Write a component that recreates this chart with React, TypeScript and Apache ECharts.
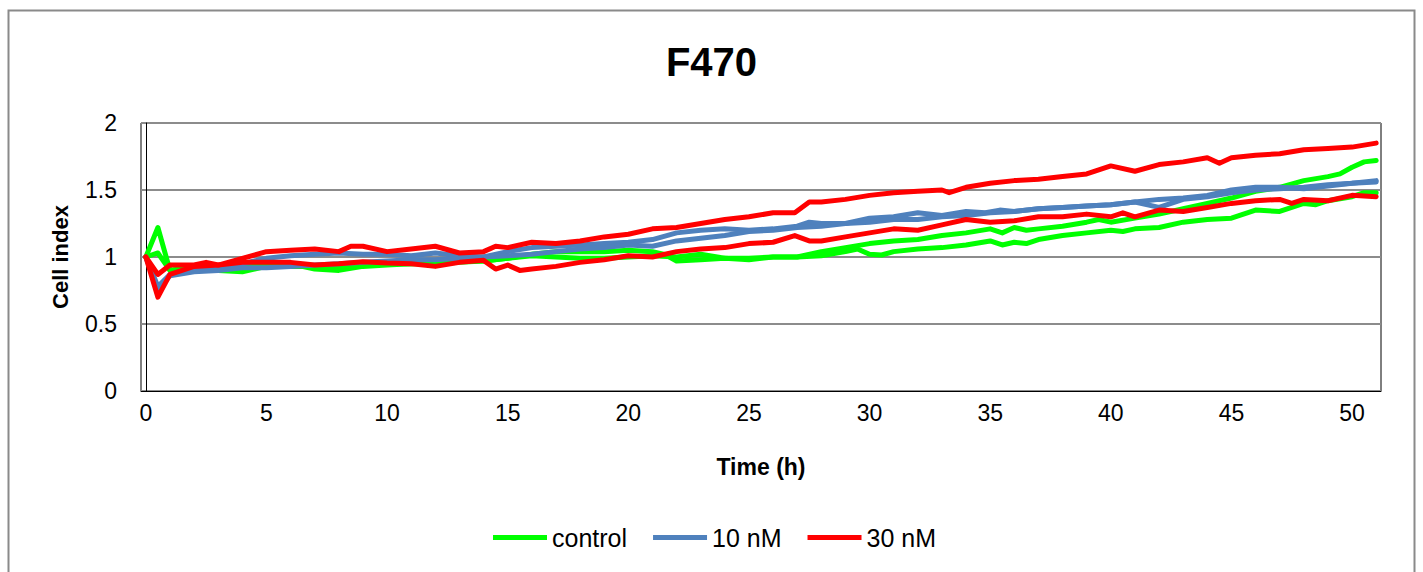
import React, { useEffect, useRef } from "react";
import * as echarts from "echarts";

const TITLE = "F470";
const X_NAME = "Time (h)";
const Y_NAME = "Cell index";
const LEGEND_NAMES = ["control", "10 nM", "30 nM"];
const COLORS = ["#00FF00", "#4F81BD", "#FF0000"];
const X_TICKS = [0, 5, 10, 15, 20, 25, 30, 35, 40, 45, 50];

const control1: [number, number][] = [
  [0, 1.0], [0.5, 1.22], [1, 0.9], [2, 0.92], [3, 0.9], [4, 0.89], [5, 0.93], [6, 0.95], [7, 0.91], [8, 0.9],
  [9, 0.93], [10, 0.94], [11, 0.95], [12, 0.96], [13, 0.97], [14, 0.97], [15, 0.99], [16, 1.02], [17, 1.04],
  [18, 1.04], [19, 1.04], [20, 1.05], [21, 1.04], [21.5, 1.02], [22, 0.97], [23, 0.98], [24, 0.99], [25, 0.98],
  [26, 1.0], [27, 1.0], [28, 1.04], [29, 1.07], [30, 1.1], [31, 1.12], [32, 1.13], [33, 1.16], [34, 1.18],
  [35, 1.21], [35.5, 1.18], [36, 1.22], [36.5, 1.2], [37, 1.21], [38, 1.23], [39, 1.26], [39.5, 1.28], [40, 1.26],
  [41, 1.29], [42, 1.32], [43, 1.36], [44, 1.4], [45, 1.44], [46, 1.49], [47, 1.52], [48, 1.57], [49, 1.6],
  [49.5, 1.62], [50, 1.67], [50.5, 1.71], [51, 1.72],
];
const control2: [number, number][] = [
  [0, 1.0], [0.5, 1.03], [1, 0.9], [2, 0.93], [3, 0.93], [4, 0.92], [5, 0.96], [6, 0.93], [7, 0.93], [8, 0.92],
  [9, 0.94], [10, 0.95], [11, 0.95], [12, 0.95], [13, 0.96], [14, 0.97], [15, 0.99], [16, 1.01], [17, 1.0],
  [18, 0.99], [19, 0.99], [20, 1.0], [21, 1.01], [22, 1.0], [23, 1.02], [24, 0.99], [25, 0.99], [26, 1.0],
  [27, 1.0], [28, 1.01], [29, 1.04], [29.5, 1.06], [30, 1.02], [30.5, 1.015], [31, 1.04], [32, 1.06], [33, 1.07],
  [34, 1.09], [35, 1.12], [35.5, 1.09], [36, 1.11], [36.5, 1.1], [37, 1.13], [38, 1.16], [39, 1.18], [40, 1.2],
  [40.5, 1.19], [41, 1.21], [42, 1.22], [43, 1.26], [44, 1.28], [45, 1.29], [46, 1.35], [47, 1.34], [48, 1.4],
  [48.5, 1.39], [49, 1.42], [50, 1.45], [50.5, 1.48], [51, 1.48],
];
const nm10a: [number, number][] = [
  [0, 1.0], [0.5, 0.78], [1, 0.87], [2, 0.9], [3, 0.92], [4, 0.95], [5, 0.99], [6, 1.01], [7, 1.02], [8, 1.03],
  [9, 1.02], [10, 1.02], [11, 1.01], [12, 1.03], [13, 1.01], [14, 1.0], [15, 1.04], [16, 1.07], [17, 1.08],
  [18, 1.09], [19, 1.1], [20, 1.11], [21, 1.13], [22, 1.18], [23, 1.2], [24, 1.21], [25, 1.2], [26, 1.21],
  [27, 1.23], [27.5, 1.26], [28, 1.25], [29, 1.25], [30, 1.29], [31, 1.3], [32, 1.33], [33, 1.31], [34, 1.34],
  [34.8, 1.33], [35.4, 1.35], [36, 1.34], [37, 1.36], [38, 1.37], [39, 1.38], [40, 1.39], [41, 1.41], [42, 1.43],
  [43, 1.44], [44, 1.46], [45, 1.5], [46, 1.52], [47, 1.52], [48, 1.51], [49, 1.53], [50, 1.55], [51, 1.56],
];
const nm10b: [number, number][] = [
  [0, 1.0], [0.5, 0.75], [1, 0.86], [2, 0.89], [3, 0.9], [4, 0.92], [5, 0.92], [6, 0.93], [7, 0.94], [8, 0.95],
  [9, 0.96], [10, 0.97], [11, 0.98], [12, 0.98], [13, 0.99], [14, 1.0], [15, 1.01], [16, 1.02], [17, 1.04],
  [18, 1.06], [19, 1.07], [20, 1.09], [21, 1.08], [22, 1.12], [23, 1.14], [24, 1.16], [25, 1.19], [26, 1.2],
  [27, 1.22], [28, 1.23], [29, 1.25], [30, 1.26], [31, 1.28], [32, 1.28], [33, 1.3], [34, 1.31], [35, 1.33],
  [36, 1.34], [37, 1.36], [38, 1.37], [39, 1.38], [40, 1.39], [41, 1.41], [42, 1.37], [43, 1.43], [44, 1.45],
  [45, 1.48], [46, 1.5], [47, 1.51], [48, 1.52], [49, 1.54], [50, 1.55], [51, 1.57],
];
const nm30a: [number, number][] = [
  [0, 1.0], [0.5, 0.87], [1, 0.94], [2, 0.94], [2.5, 0.96], [3, 0.94], [4, 0.99], [5, 1.04], [6, 1.05], [7, 1.06],
  [8, 1.04], [8.5, 1.08], [9, 1.08], [10, 1.04], [11, 1.06], [12, 1.08], [13, 1.03], [14, 1.04], [14.5, 1.08],
  [15, 1.07], [16, 1.11], [17, 1.1], [18, 1.12], [19, 1.15], [20, 1.17], [21, 1.21], [22, 1.22], [23, 1.25],
  [24, 1.28], [25, 1.3], [26, 1.33], [26.9, 1.33], [27.5, 1.41], [28, 1.41], [29, 1.43], [30, 1.46], [31, 1.48],
  [32, 1.49], [33, 1.5], [33.3, 1.48], [34, 1.52], [35, 1.55], [36, 1.57], [37, 1.58], [38, 1.6], [39, 1.62],
  [40, 1.68], [41, 1.64], [42, 1.69], [43, 1.71], [44, 1.74], [44.5, 1.7], [45, 1.74], [46, 1.76], [47, 1.77],
  [48, 1.8], [49, 1.81], [50, 1.82], [51, 1.85],
];
const nm30b: [number, number][] = [
  [0, 1.0], [0.5, 0.7], [1, 0.87], [2, 0.93], [3, 0.94], [4, 0.96], [5, 0.96], [6, 0.96], [7, 0.94], [8, 0.95],
  [9, 0.965], [10, 0.955], [11, 0.95], [12, 0.93], [13, 0.96], [14, 0.975], [14.5, 0.91], [15, 0.94], [15.5, 0.9],
  [16, 0.91], [17, 0.93], [18, 0.96], [19, 0.98], [20, 1.01], [21, 1.0], [22, 1.04], [23, 1.06], [24, 1.07],
  [25, 1.1], [26, 1.11], [26.9, 1.16], [27.5, 1.12], [28, 1.12], [29, 1.15], [30, 1.18], [31, 1.21], [32, 1.2],
  [33, 1.24], [34, 1.28], [35, 1.26], [36, 1.27], [37, 1.3], [38, 1.3], [39, 1.32], [40, 1.3], [40.5, 1.33],
  [41, 1.3], [42, 1.35], [43, 1.34], [44, 1.37], [45, 1.4], [46, 1.42], [47, 1.43], [47.5, 1.4], [48, 1.43],
  [49, 1.42], [50, 1.46], [51, 1.45],
];

const SERIES_DATA: { group: number; data: [number, number][] }[] = [
  { group: 0, data: control1 },
  { group: 0, data: control2 },
  { group: 1, data: nm10a },
  { group: 1, data: nm10b },
  { group: 2, data: nm30a },
  { group: 2, data: nm30b },
];

const FONT = "'Liberation Sans', Arial, sans-serif";

export default function App() {
  const ref = useRef<HTMLDivElement>(null);
  useEffect(() => {
    if (!ref.current) return;
    const chart = echarts.init(ref.current, null, { renderer: "svg" });
    chart.setOption({
      animation: false,
      backgroundColor: "#ffffff",
      textStyle: { fontFamily: FONT, color: "#000" },
      title: {
        text: TITLE,
        left: "center",
        top: 37,
        textStyle: { fontFamily: FONT, fontSize: 40, fontWeight: "bold", color: "#000" },
      },
      graphic: [
        {
          type: "rect",
          shape: { x: 8.5, y: 10.5, width: 1406, height: 620 },
          style: { fill: "none", stroke: "#8a8a8a", lineWidth: 2 },
          silent: true,
          z: -1,
        },
      ],
      legend: {
        data: LEGEND_NAMES,
        left: 488,
        top: 520,
        icon: "rect",
        itemWidth: 54,
        itemHeight: 5,
        itemGap: 26,
        textStyle: { fontFamily: FONT, fontSize: 25, color: "#000", padding: [0, 0, 0, 0] },
      },
      grid: {
        left: 141,
        top: 123,
        right: 42,
        bottom: 181,
        show: true,
        borderColor: "#000",
        borderWidth: 1,
        containLabel: false,
      },
      xAxis: {
        type: "value",
        min: -0.2,
        max: 51.2,
        name: X_NAME,
        nameLocation: "middle",
        nameGap: 64,
        nameTextStyle: { fontFamily: FONT, fontSize: 23, fontWeight: "bold", color: "#000" },
        axisLine: { show: true, lineStyle: { color: "#000", width: 1 } },
        axisTick: { show: false },
        splitLine: { show: false },
        axisLabel: {
          customValues: X_TICKS,
          margin: 10,
          fontFamily: FONT,
          fontSize: 23,
          color: "#000",
        },
      },
      yAxis: {
        type: "value",
        min: 0,
        max: 2,
        interval: 0.5,
        name: Y_NAME,
        nameLocation: "middle",
        nameGap: 70,
        nameTextStyle: { fontFamily: FONT, fontSize: 22, fontWeight: "bold", color: "#000" },
        axisLine: { show: true, lineStyle: { color: "#000", width: 1 } },
        axisTick: { show: false },
        splitLine: { show: true, lineStyle: { color: "#8c8c8c", width: 2 } },
        axisLabel: { margin: 24, fontFamily: FONT, fontSize: 23, color: "#000" },
      },
      series: SERIES_DATA.map((s) => ({
        type: "line",
        name: LEGEND_NAMES[s.group],
        data: s.data,
        showSymbol: false,
        symbol: "none",
        smooth: false,
        color: COLORS[s.group],
        lineStyle: { color: COLORS[s.group], width: 5, join: "round", cap: "round" },
        z: 2 + s.group,
      })),
    });
    return () => chart.dispose();
  }, []);
  return (
    <div
      ref={ref}
      style={{ position: "fixed", left: 0, top: 0, width: 1423, height: 572, background: "#fff" }}
    />
  );
}
